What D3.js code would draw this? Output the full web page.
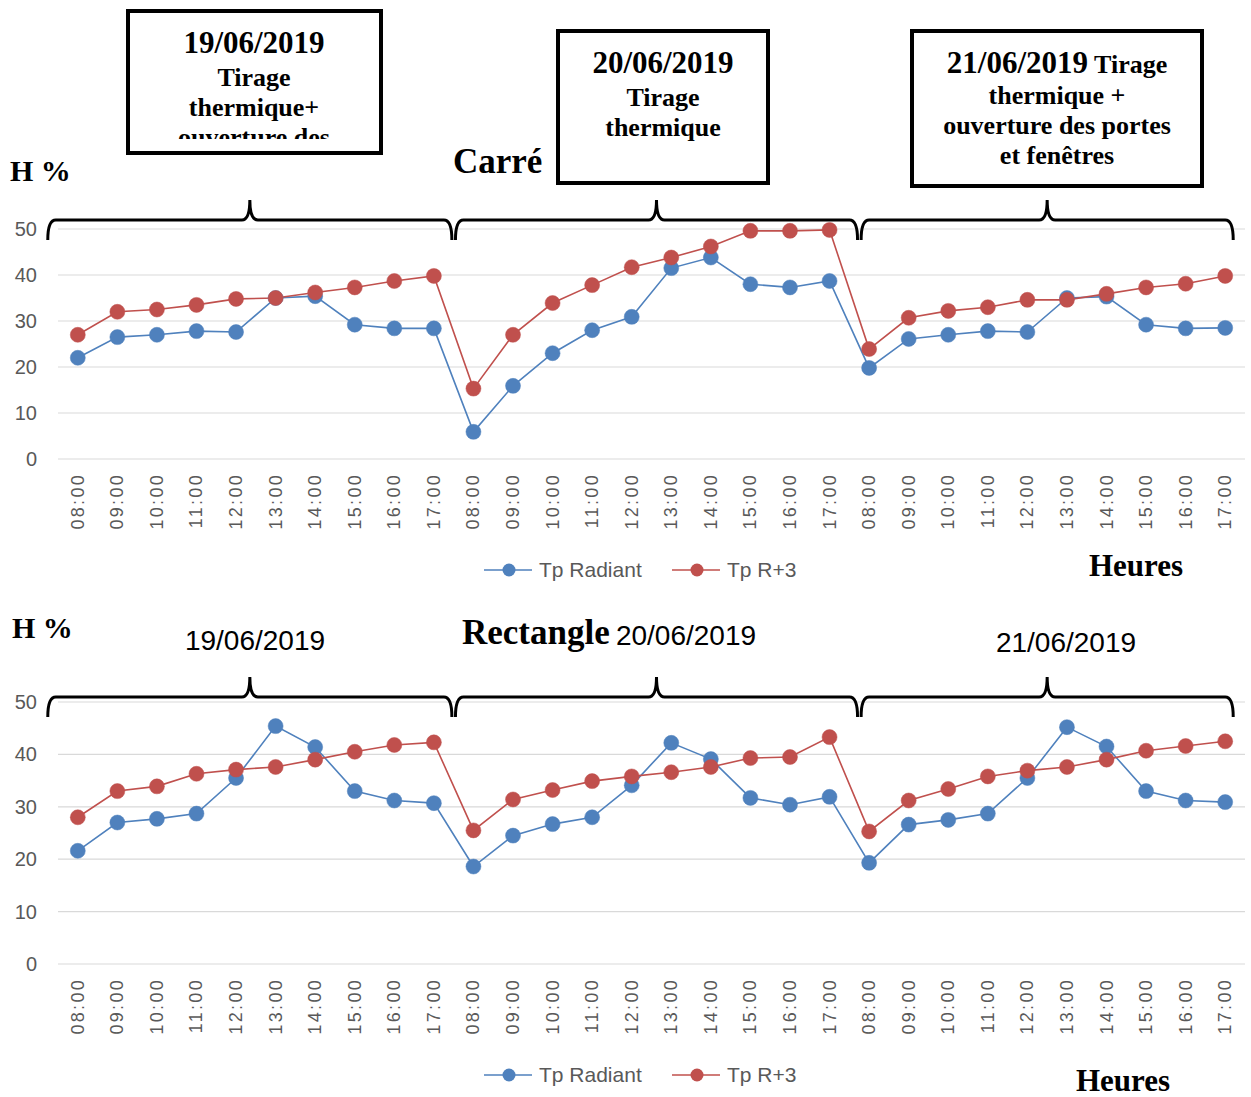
<!DOCTYPE html>
<html>
<head>
<meta charset="utf-8">
<script src="https://cdn.jsdelivr.net/npm/d3@7"></script>
<style>
  body { margin: 0; background: #fff; }
  svg { display: block; }
</style>
</head>
<body>
<script>
// categories
const days = ["19/06/2019", "20/06/2019", "21/06/2019"];
const hours = ["08:00", "09:00", "10:00", "11:00", "12:00", "13:00", "14:00", "15:00", "16:00", "17:00"];
const series = ["Tp Radiant", "Tp R+3"];
const yTicks = [0, 10, 20, 30, 40, 50];

// Carré (H %)
const carreRadiant = [22, 26.5, 27, 27.8, 27.6, 35, 35.4, 29.2, 28.4, 28.4,
  5.9, 15.9, 23, 28, 30.9, 41.5, 43.8, 38, 37.3, 38.7,
  19.8, 26.1, 27, 27.8, 27.6, 35, 35.3, 29.2, 28.4, 28.5];
const carreR3 = [27, 32, 32.5, 33.5, 34.8, 35, 36.2, 37.3, 38.7, 39.8,
  15.3, 27, 33.9, 37.8, 41.7, 43.8, 46.2, 49.6, 49.6, 49.8,
  23.9, 30.7, 32.2, 33, 34.6, 34.6, 35.9, 37.3, 38.1, 39.8];

// Rectangle (H %)
const rectRadiant = [21.6, 27, 27.7, 28.7, 35.5, 45.4, 41.4, 33, 31.2, 30.7,
  18.6, 24.5, 26.7, 28, 34.1, 42.2, 39.1, 31.7, 30.4, 31.9,
  19.3, 26.6, 27.5, 28.7, 35.5, 45.2, 41.5, 33, 31.2, 30.9];
const rectR3 = [28, 33, 33.9, 36.3, 37.1, 37.6, 39, 40.5, 41.8, 42.3,
  25.5, 31.4, 33.2, 34.9, 35.8, 36.6, 37.6, 39.3, 39.5, 43.3,
  25.3, 31.2, 33.4, 35.8, 36.9, 37.6, 39, 40.7, 41.6, 42.5];

// box texts (top chart)
const boxLines = [
  [["19/06/2019"], ["Tirage"], ["thermique+"], ["ouverture des"], ["portes et fenêtres"]],
  [["20/06/2019"], ["Tirage"], ["thermique"]],
  [["21/06/2019", " Tirage"], ["thermique +"], ["ouverture des portes"], ["et fenêtres"]]
];

const W = 1251, H = 1097;
const colors = ["#4F81BD", "#C0504D"];
const gray = "#595959";
const serif = "'Liberation Serif', 'Times New Roman', serif";
const sans = "'Liberation Sans', Arial, sans-serif";

const svg = d3.select("body").append("svg")
    .attr("width", W)
    .attr("height", H);

const cats = d3.cross(days, hours).map((d, i) => i);
const x = d3.scaleBand().domain(cats).range([58, 1245]).padding(0);
const cx = i => x(i) + x.bandwidth() / 2;

function drawChart(cfg) {
  const y = d3.scaleLinear().domain([0, 50]).range([cfg.y0, cfg.y50]);
  const g = svg.append("g");

  // gridlines
  g.append("g").selectAll("line")
    .data(yTicks)
    .join("line")
      .attr("x1", 58).attr("x2", 1245)
      .attr("y1", d => y(d)).attr("y2", d => y(d))
      .attr("stroke", "#d9d9d9")
      .attr("stroke-width", 1.2);

  // y axis labels
  g.append("g").selectAll("text")
    .data(yTicks)
    .join("text")
      .attr("x", 37)
      .attr("y", d => y(d) + 7)
      .attr("text-anchor", "end")
      .attr("fill", gray)
      .style("font", `20px ${sans}`)
      .text(d => d);

  // x labels, rotated
  g.append("g").selectAll("text")
    .data(cats)
    .join("text")
      .attr("transform", d => `translate(${cx(d) + 6},${cfg.y0 + 14}) rotate(-90)`)
      .attr("text-anchor", "end")
      .attr("fill", gray)
      .style("font", `18px ${sans}`)
      .style("letter-spacing", "2.3px")
      .text(d => hours[d % hours.length]);

  // braces over each day
  const braceOff = [[-30, 18], [-18, 28], [-8, 8]];
  days.forEach((day, k) => {
    const x0 = cx(k * 10) + braceOff[k][0];
    const x1 = cx(k * 10 + 9) + braceOff[k][1];
    const m = (x0 + x1) / 2;
    const yl = cfg.brace, yt = yl - 20, ye = yl + 20, r = 8;
    g.append("path")
      .attr("d", `M${x0},${ye} Q${x0},${yl} ${x0 + r},${yl} L${m - r},${yl} Q${m},${yl} ${m},${yt} ` +
        `Q${m},${yl} ${m + r},${yl} L${x1 - r},${yl} Q${x1},${yl} ${x1},${ye}`)
      .attr("fill", "none")
      .attr("stroke", "#000")
      .attr("stroke-width", 3);
  });

  // lines + markers
  const line = d3.line().x((d, i) => cx(i)).y(d => y(d));
  cfg.data.forEach((vals, s) => {
    g.append("path")
      .datum(vals)
      .attr("d", line)
      .attr("fill", "none")
      .attr("stroke", colors[s])
      .attr("stroke-width", 1.6);
  });
  cfg.data.forEach((vals, s) => {
    g.append("g").selectAll("circle")
      .data(vals)
      .join("circle")
        .attr("cx", (d, i) => cx(i))
        .attr("cy", d => y(d))
        .attr("r", 7.5)
        .attr("fill", colors[s])
        .attr("stroke", colors[s])
        .attr("stroke-opacity", 0.5)
        .attr("stroke-width", 1);
  });

  // legend
  const leg = g.append("g").attr("transform", `translate(0,${cfg.legend})`);
  const legX = [484, 672];
  series.forEach((name, s) => {
    leg.append("line")
      .attr("x1", legX[s]).attr("x2", legX[s] + 48)
      .attr("stroke", colors[s]).attr("stroke-width", 1.6);
    leg.append("circle")
      .attr("cx", legX[s] + 25).attr("r", 6.5)
      .attr("fill", colors[s]);
    leg.append("text")
      .attr("x", legX[s] + 55).attr("y", 7)
      .attr("fill", gray)
      .style("font", `21px ${sans}`)
      .text(name);
  });

  // titles
  svg.append("text")
    .attr("x", cfg.hx).attr("y", cfg.hy)
    .style("font", `bold 30px ${serif}`)
    .text("H %");
  svg.append("text")
    .attr("x", cfg.tx).attr("y", cfg.ty)
    .style("font", `bold 35px ${serif}`)
    .text(cfg.title);
  svg.append("text")
    .attr("x", cfg.ux).attr("y", cfg.uy)
    .style("font", `bold 31px ${serif}`)
    .text("Heures");
}

drawChart({
  data: [carreRadiant, carreR3], y0: 459, y50: 229, brace: 220, legend: 570,
  hx: 10, hy: 181, title: "Carré", tx: 453, ty: 173, ux: 1089, uy: 576
});
drawChart({
  data: [rectRadiant, rectR3], y0: 964, y50: 702, brace: 697, legend: 1075,
  hx: 12, hy: 638, title: "Rectangle", tx: 462, ty: 644, ux: 1076, uy: 1091
});

// boxes above the top chart
const boxes = [
  {x: 128, y: 11, w: 253, h: 142, cx: 254, y1: 53, clip: 128},
  {x: 558, y: 31, w: 210, h: 152, cx: 663, y1: 73, clip: 148},
  {x: 912, y: 31, w: 290, h: 155, cx: 1057, y1: 73, clip: 151}
];
const defs = svg.append("defs");
boxes.forEach((b, k) => {
  defs.append("clipPath").attr("id", "clip" + k)
    .append("rect").attr("x", b.x + 2).attr("y", b.y + 2).attr("width", b.w - 4).attr("height", b.clip - 2);
  svg.append("rect")
    .attr("x", b.x).attr("y", b.y).attr("width", b.w).attr("height", b.h)
    .attr("fill", "#fff").attr("stroke", "#000").attr("stroke-width", 4);
  const t = svg.append("g").attr("clip-path", `url(#clip${k})`);
  boxLines[k].forEach((parts, j) => {
    const txt = t.append("text")
      .attr("x", b.cx)
      .attr("y", b.y1 + (j === 0 ? 0 : (k === 2 ? 30 * j + 1 : 33 + 30 * (j - 1))))
      .attr("text-anchor", "middle")
      .style("font-family", serif)
      .style("font-weight", "bold");
    parts.forEach((p, pi) => {
      txt.append("tspan")
        .style("font-size", (j === 0 && pi === 0) ? "31px" : "26px")
        .text(p);
    });
  });
});

// date labels above the bottom chart
const dateLabels = [{x: 255, y: 650}, {x: 686, y: 645}, {x: 1066, y: 652}];
days.forEach((d, k) => {
  svg.append("text")
    .attr("x", dateLabels[k].x).attr("y", dateLabels[k].y)
    .attr("text-anchor", "middle")
    .style("font", `28px ${sans}`)
    .text(d);
});
</script>
</body>
</html>
